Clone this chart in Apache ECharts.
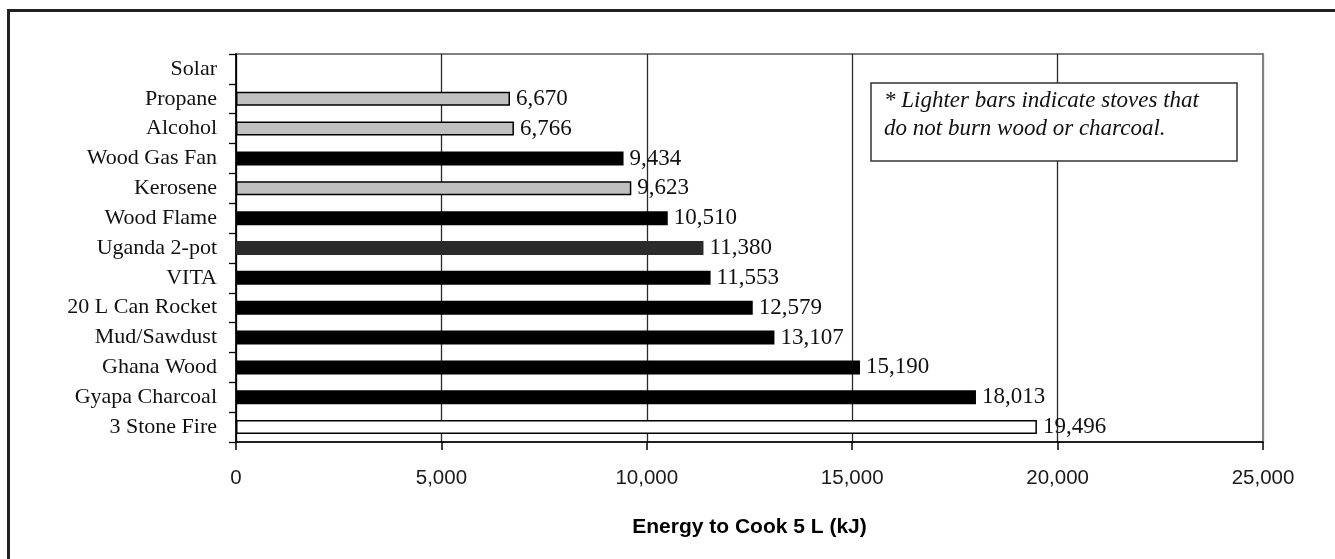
<!DOCTYPE html>
<html>
<head>
<meta charset="utf-8">
<script src="https://cdn.jsdelivr.net/npm/echarts@6/dist/echarts.min.js"></script>
<style>
html,body{margin:0;padding:0;background:#fff;}
#chart{width:1335px;height:559px;}
</style>
</head>
<body>
<div id="chart"></div>
<script>
// Categories listed top to bottom
const categories = ["Solar","Propane","Alcohol","Wood Gas Fan","Kerosene","Wood Flame","Uganda 2-pot","VITA","20 L Can Rocket","Mud/Sawdust","Ghana Wood","Gyapa Charcoal","3 Stone Fire"];
const energyValues = [null,6670,6766,9434,9623,10510,11380,11553,12579,13107,15190,18013,19496];
// bar fill per category: L = light (non wood/charcoal), D = dark, G = dark gray, W = white
const barKinds = ["L","L","L","D","L","D","G","D","D","D","D","D","W"];
const xTicks = [0,5000,10000,15000,20000,25000];
const noteLines = ["* Lighter bars indicate stoves that","do not burn wood or charcoal."];
const axisTitle = "Energy to Cook 5 L (kJ)";

const fills = {L:"#c0c0c0", D:"#000000", G:"#2b2b2b", W:"#ffffff"};
const fmt = v => v.toLocaleString("en-US");

const chart = echarts.init(document.getElementById("chart"), null, {renderer:"canvas"});
chart.setOption({
  animation:false,
  backgroundColor:"#fff",
  grid:{left:236, right:72, top:54, bottom:117, show:true, borderColor:"#808080", borderWidth:2, backgroundColor:"transparent"},
  xAxis:{
    type:"value", min:xTicks[0], max:xTicks[xTicks.length-1], interval:xTicks[1]-xTicks[0],
    axisLine:{show:true, lineStyle:{color:"#000", width:1.5}},
    axisTick:{show:true, inside:false, length:8, lineStyle:{color:"#000", width:1.5}},
    axisLabel:{fontFamily:"Liberation Sans, Arial, sans-serif", fontSize:20.5, color:"#1a1a1a", margin:26, formatter:v=>fmt(v)},
    splitLine:{show:true, lineStyle:{color:["#000","#2a2a2a","#2a2a2a","#2a2a2a","#2a2a2a","#808080"], width:1.3}},
    name:axisTitle, nameLocation:"middle", nameGap:75,
    nameTextStyle:{fontFamily:"Liberation Sans, Arial, sans-serif", fontSize:21, fontWeight:"bold", color:"#000"}
  },
  yAxis:{
    type:"category", data:categories, inverse:true,
    axisLine:{show:true, lineStyle:{color:"#000", width:1.5}},
    axisTick:{show:true, inside:false, length:7, lineStyle:{color:"#000", width:1.3}},
    axisLabel:{fontFamily:"Liberation Serif, Times New Roman, serif", fontSize:22, color:"#111", margin:19},
    splitLine:{show:false}
  },
  series:[{
    type:"bar",
    barWidth:14,
    data:energyValues.map((v,i)=>({
      value:v,
      itemStyle:{color:fills[barKinds[i]], borderColor:"#000", borderWidth:(barKinds[i]==="L"||barKinds[i]==="W")?1.5:0}
    })),
    label:{show:true, position:"right", distance:6,
      fontFamily:"Liberation Serif, Times New Roman, serif", fontSize:23, color:"#111",
      formatter:p=> p.value==null ? "" : fmt(p.value)}
  }],
  graphic:[
    {type:"rect", z:100, silent:true, shape:{x:8.5, y:10.5, width:1400, height:700},
      style:{fill:"none", stroke:"#222", lineWidth:3}},
    {type:"rect", z:100, shape:{x:871, y:83, width:366, height:78},
      style:{fill:"#fff", stroke:"#333", lineWidth:1.5}},
    {type:"text", z:101, left:884, top:87,
      style:{text:noteLines.join("\n"), fontFamily:"Liberation Serif, Times New Roman, serif", fontStyle:"italic", fontSize:23, lineHeight:28, fill:"#111"}}
  ]
});
</script>
</body>
</html>
